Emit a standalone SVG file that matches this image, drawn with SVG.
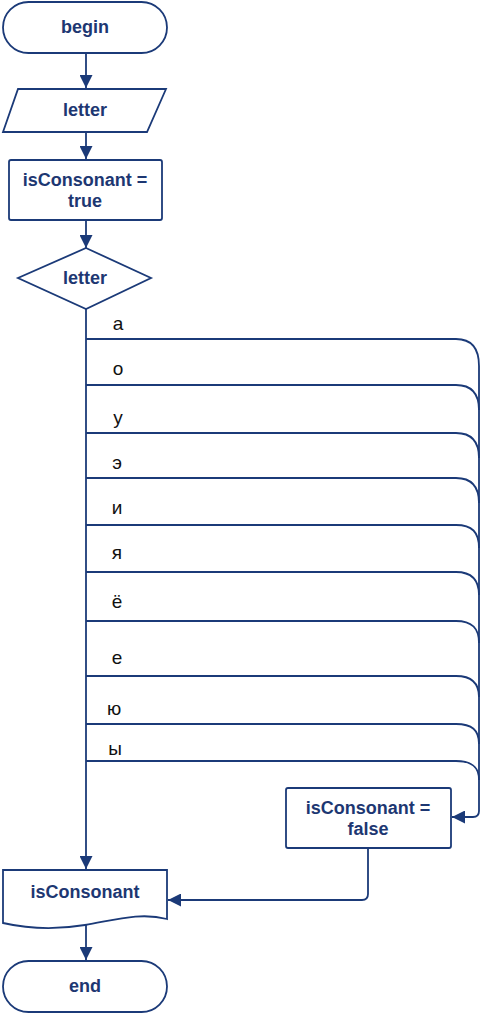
<svg xmlns="http://www.w3.org/2000/svg" width="481" height="1014" viewBox="0 0 481 1014">
<style>
.shape{fill:#fff;stroke:#1b3a78;stroke-width:1.8}
.edge{fill:none;stroke:#1b3a78;stroke-width:1.8}
.t{font-family:"Liberation Sans",Arial,sans-serif;font-weight:bold;font-size:18px;fill:#1d3772;text-anchor:middle;dominant-baseline:central}
.lbl{font-family:"Liberation Sans",Arial,sans-serif;font-size:19px;fill:#111;text-anchor:middle;dominant-baseline:central}
</style>
<defs>
<marker id="ah" markerWidth="13" markerHeight="13" refX="13" refY="6.5" orient="auto" markerUnits="userSpaceOnUse">
<path d="M0,0 L13,6.5 L0,13 Z" fill="#1b3a78"/>
</marker>
</defs>
<rect width="481" height="1014" fill="#fff"/>
<g id="connectors">
<path class="edge" d="M86,53 V88" marker-end="url(#ah)"/>
<path class="edge" d="M86,132 V159" marker-end="url(#ah)"/>
<path class="edge" d="M86,220 V248" marker-end="url(#ah)"/>
<path class="edge" d="M86,309 V869" marker-end="url(#ah)"/>
<path class="edge" d="M86,339 H456 C472,339 479,348 479,366"/>
<path class="edge" d="M86,385 H456 C472,385 479,394 479,410"/>
<path class="edge" d="M86,433 H456 C472,433 479,442 479,458"/>
<path class="edge" d="M86,478 H456 C472,478 479,487 479,503"/>
<path class="edge" d="M86,525 H456 C472,525 479,532 479,548"/>
<path class="edge" d="M86,572 H456 C472,572 479,580 479,595"/>
<path class="edge" d="M86,621 H456 C472,621 479,628 479,643"/>
<path class="edge" d="M86,676 H456 C472,676 479,683 479,697"/>
<path class="edge" d="M86,724 H456 C472,724 479,730 479,744"/>
<path class="edge" d="M86,761 H456 C472,761 479,767 479,780"/>
<path class="edge" d="M479,366 V811 Q479,817 473,817 H452" marker-end="url(#ah)"/>
<path class="edge" d="M368,848 V894 Q368,900 362,900 H168" marker-end="url(#ah)"/>
<path class="edge" d="M86,925 V960" marker-end="url(#ah)"/>
</g>
<g id="labels">
<text class="lbl" x="118" y="323">а</text>
<text class="lbl" x="118" y="368">о</text>
<text class="lbl" x="118" y="417">у</text>
<text class="lbl" x="117" y="462">э</text>
<text class="lbl" x="117" y="507">и</text>
<text class="lbl" x="117" y="552">я</text>
<text class="lbl" x="117" y="601">ё</text>
<text class="lbl" x="117" y="657">е</text>
<text class="lbl" x="114" y="708">ю</text>
<text class="lbl" x="115" y="748">ы</text>
</g>
<g id="begin">
<rect class="shape" x="3" y="2" width="164" height="51" rx="25.5"/>
<text class="t" x="85" y="27">begin</text>
</g>
<g id="input-letter">
<path class="shape" d="M18,89 H166 L147,132 H3 Z"/>
<text class="t" x="85" y="110">letter</text>
</g>
<g id="assign-true">
<rect class="shape" x="9" y="160" width="153" height="60" rx="2"/>
<text class="t" x="85" y="180">isConsonant =</text>
<text class="t" x="85" y="201">true</text>
</g>
<g id="decision">
<path class="shape" d="M86,248 L151,278 L86,309 L18,278 Z"/>
<text class="t" x="85" y="278">letter</text>
</g>
<g id="assign-false">
<rect class="shape" x="286" y="788" width="165" height="60" rx="2"/>
<text class="t" x="368" y="808">isConsonant =</text>
<text class="t" x="368" y="829">false</text>
</g>
<g id="output">
<path class="shape" d="M3,870 H167 V919 C140,912 115,920 85,925 C55,930 25,928 3,923 Z"/>
<text class="t" x="85" y="892">isConsonant</text>
</g>
<g id="end">
<rect class="shape" x="3" y="961" width="164" height="51" rx="25.5"/>
<text class="t" x="85" y="986">end</text>
</g>
</svg>
